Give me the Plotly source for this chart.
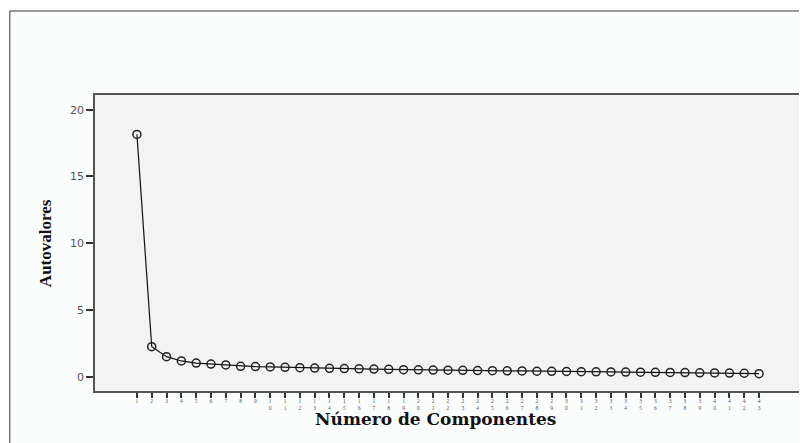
import plotly.graph_objects as go

components = list(range(1, 44))
eigenvalues = [18.15, 2.25, 1.50, 1.18, 1.02, 0.95, 0.88, 0.78, 0.76, 0.73,
               0.70, 0.68, 0.65, 0.63, 0.61, 0.59, 0.57, 0.55, 0.53, 0.52,
               0.50, 0.49, 0.48, 0.46, 0.45, 0.44, 0.43, 0.41, 0.40, 0.39,
               0.38, 0.37, 0.36, 0.35, 0.34, 0.33, 0.32, 0.31, 0.29, 0.28,
               0.27, 0.26, 0.23]
# tick labels are stacked digits: first digit row, second digit row
tick_row1 = [str(c)[0] for c in components]
tick_row2_vals = [c for c in components if c >= 10]
tick_row2 = [str(c)[1] for c in tick_row2_vals]
y_ticks = [0, 5, 10, 15, 20]

OFF = 8  # page body margin
W, H = 807, 443
# reference-pixel geometry of plot area
P_L, P_R, P_T, P_B = 95, 804, 95, 391
L = P_L - OFF
T = P_T - OFF
R = W - (P_R - OFF)
B = H - (P_B - OFF)
pw = W - L - R
ph = H - T - B

def px(x):
    return (x - OFF - L) / pw

def py(y):
    return (H - B - (y - OFF)) / ph

fig = go.Figure()
fig.add_trace(go.Scatter(
    x=components, y=eigenvalues, mode="lines+markers",
    line=dict(color="#111111", width=1.2),
    marker=dict(symbol="circle-open", size=8, color="#222222", line=dict(width=1.5)),
    showlegend=False, hoverinfo="x+y",
))
# invisible trace on second x axis so its ticks render
fig.add_trace(go.Scatter(x=[components[0]], y=[eigenvalues[0]], xaxis="x2",
                         mode="markers", marker=dict(opacity=0), showlegend=False,
                         hoverinfo="skip"))

xr = [-1.83, 45.9]
fig.update_layout(
    width=W, height=H,
    margin=dict(l=L, r=R, t=T, b=B),
    paper_bgcolor="#fbfcfc",
    plot_bgcolor="#f3f3f3",
    xaxis=dict(range=xr, tickvals=components, ticktext=tick_row1,
               ticks="outside", ticklen=5, tickwidth=1.5, tickcolor="#333",
               ticklabelstandoff=-1,
               tickfont=dict(family="Liberation Serif", size=5.5, color="#555"),
               showgrid=False, zeroline=False, showline=True, mirror=True,
               linecolor="#555", linewidth=1.5),
    xaxis2=dict(range=xr, tickvals=tick_row2_vals, ticktext=tick_row2,
                overlaying="x", anchor="y", side="bottom",
                ticks="", ticklabelstandoff=12,
                tickfont=dict(family="Liberation Serif", size=5.5, color="#555"),
                showgrid=False, zeroline=False, showline=False),
    yaxis=dict(range=[-1.07, 21.1], tickvals=y_ticks,
               ticks="outside", ticklen=7, tickwidth=1.5, tickcolor="#333",
               tickfont=dict(family="DejaVu Sans", size=11, color="#555"),
               showgrid=False, zeroline=False, showline=True, mirror=True,
               linecolor="#555", linewidth=1.5),
    shapes=[
        dict(type="line", xref="paper", yref="paper", x0=px(9.5), x1=px(W + 20),
             y0=py(11), y1=py(11), line=dict(color="#777", width=1.5)),
        dict(type="line", xref="paper", yref="paper", x0=px(9.5), x1=px(9.5),
             y0=py(11), y1=py(H + 20), line=dict(color="#777", width=1.5)),
    ],
    annotations=[
        dict(text="<b>Autovalores</b>", xref="paper", yref="paper",
             x=px(45), y=py(243), textangle=-90, showarrow=False,
             font=dict(family="Liberation Serif", size=17, color="#111"),
             xanchor="center", yanchor="middle"),
        dict(text="<b>Número de Componentes</b>", xref="paper", yref="paper",
             x=px(436), y=py(419), showarrow=False,
             font=dict(family="DejaVu Serif", size=17, color="#111"),
             xanchor="center", yanchor="middle"),
        dict(text="<b>Scree plot da distribuição</b>", xref="paper", yref="paper",
             x=px(78), y=py(8), showarrow=False,
             font=dict(family="Liberation Serif", size=20, color="#111"),
             xanchor="left", yanchor="bottom"),
    ],
)

fig.write_html("out.html")
